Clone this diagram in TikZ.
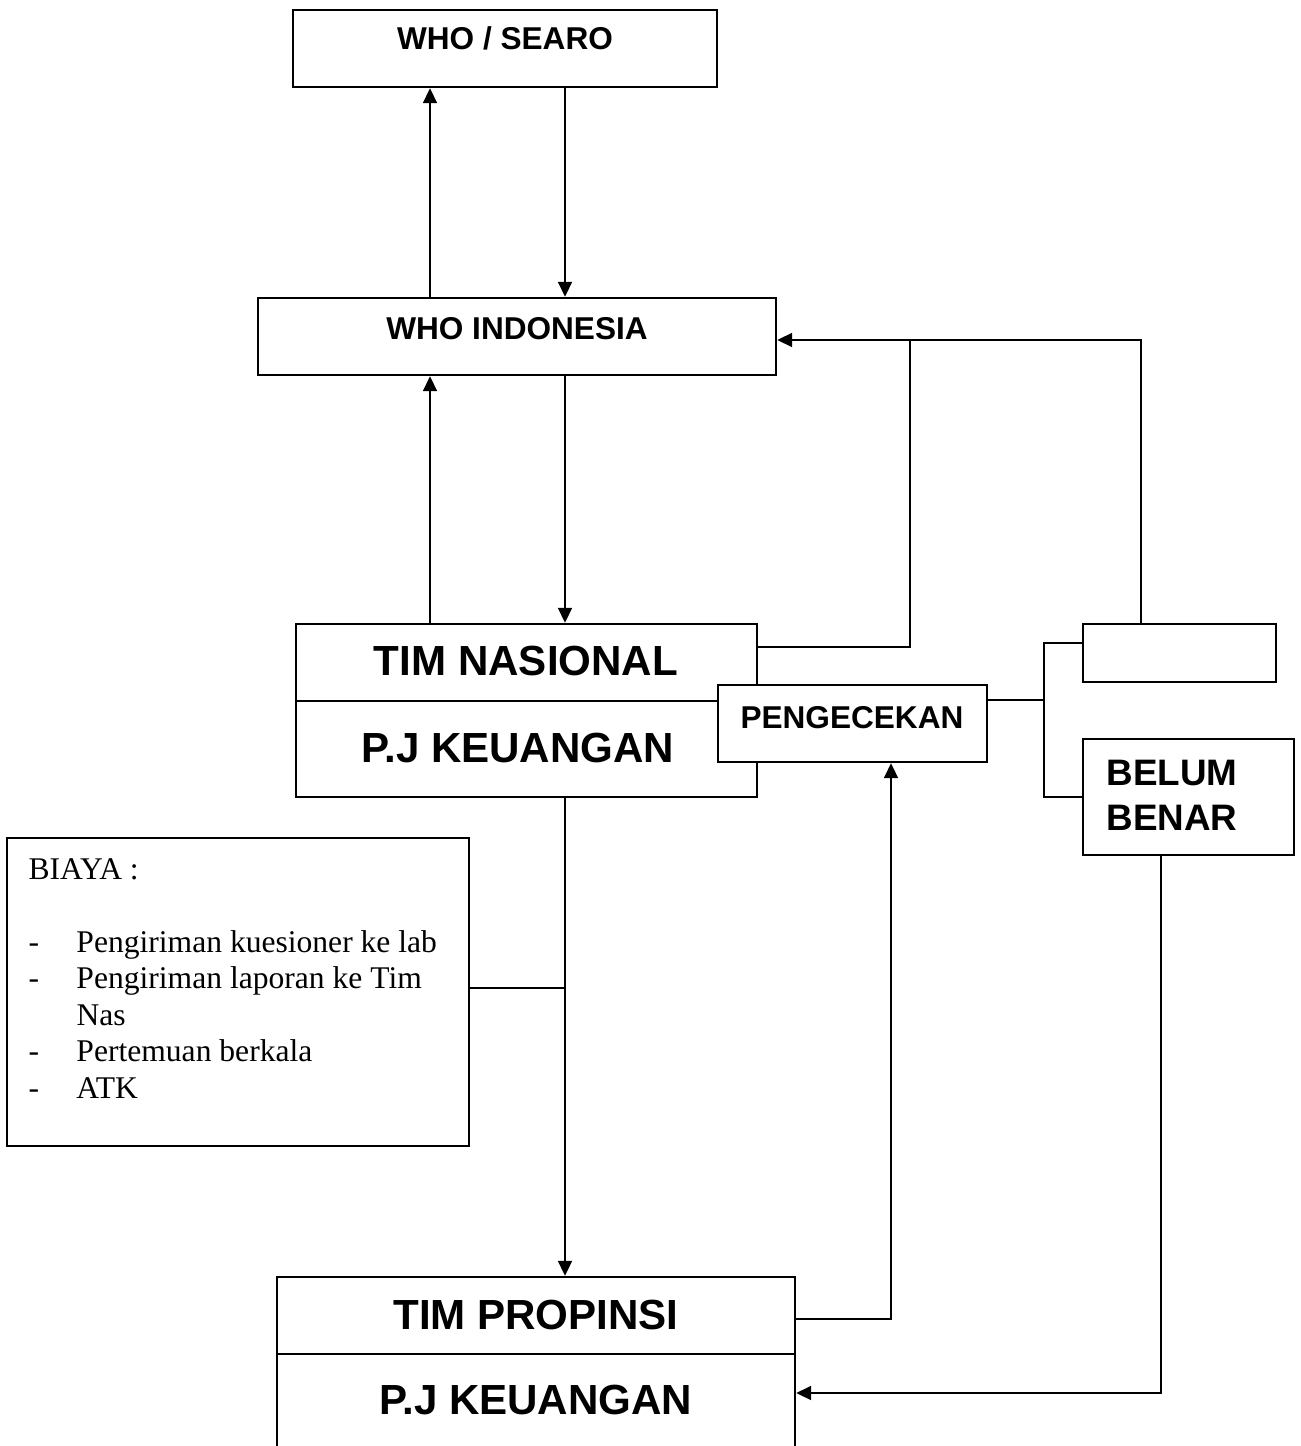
\documentclass[tikz,border=0pt]{standalone}
\usepackage{fontspec}
\setmainfont{Liberation Serif}
\newfontfamily\hv{Liberation Sans}
\usetikzlibrary{arrows.meta,fit}
\begin{document}
\begin{tikzpicture}[x=0.38pt,y=-0.38pt,
  box/.style={draw, line width=0.9pt, inner sep=0pt, fill=white},
  conn/.style={line width=0.75pt},
  arr/.style={conn, -{Triangle[length=5.7pt,width=5.3pt]}},
  lbl/.style={inner sep=0pt, anchor=base, font=\hv\bfseries\fontsize{12}{14}\selectfont},
  big/.style={lbl, font=\hv\bfseries\fontsize{16}{19}\selectfont},
  mid/.style={lbl, anchor=base west, font=\hv\bfseries\fontsize{14}{17}\selectfont},
]
\useasboundingbox (0,0) rectangle (1300,1446);
\clip (0,0) rectangle (1300,1446);
\fill[white] (0,0) rectangle (1300,1446);

% helper coordinates
\coordinate (xa) at (430,0);
\coordinate (xb) at (565,0);
\coordinate (xc) at (891,0);
\coordinate (xd) at (1141,0);
\coordinate (xe) at (1161,0);
\coordinate (j1) at (910,340);
\coordinate (ya) at (0,647);
\coordinate (yc) at (0,1319);
\coordinate (yd) at (0,1393);
\coordinate (yt) at (0,701);
\coordinate (yp) at (0,1354);
\coordinate (br) at (1044,700);
\coordinate (bt) at (0,643);
\coordinate (bb) at (1044,797);
\coordinate (bj) at (565,988);

% boxes
\node[box, fit={(293,10) (717,87)}] (searo) {};
\node[box, fit={(258,298) (776,375)}] (whoi) {};
\node[box, fit={(296,624) (757,797)}] (timnas) {};
\draw[line width=0.9pt] (timnas.west |- yt) -- (timnas.east |- yt);
\node[box, fit={(718,685) (987,762)}] (pgc) {};
\node[box, fit={(1083,624) (1276,682)}] (emp) {};
\node[box, fit={(1083,739) (1294,855)}] (belum) {};
\node[box, fit={(7,838) (469,1146)}] (biaya) {};
\node[box, fit={(277,1277) (795,1465)}] (timprop) {};
\draw[line width=0.9pt] (timprop.west |- yp) -- (timprop.east |- yp);

% texts
\node[lbl] (tsearo) at (505,50) {WHO / SEARO};
\node[lbl] (twhoi) at (517,340) {WHO INDONESIA};
\node[big] (ttn) at (526,675) {TIM NASIONAL};
\node[big] (tpj1) at (518,762) {P.J KEUANGAN};
\node[lbl, anchor=base west] (tpgc) at (740,728) {PENGECEKAN};
\node[mid] (tbel1) at (1106,785) {BELUM};
\node[mid] (tbel2) at (1106,830) {BENAR};
\node[big] (ttp) at (536,1329) {TIM PROPINSI};
\node[big] (tpj2) at (536,1414) {P.J KEUANGAN};
\node[inner sep=0pt, anchor=base west, font=\fontsize{12}{13.87}\selectfont] (tbiaya) at (28,879)
  {\begin{tabular}[t]{@{}p{18.24pt}@{}l@{}}
   \multicolumn{2}{@{}l@{}}{BIAYA :}\\
   & \\
   - & Pengiriman kuesioner ke lab\\
   - & Pengiriman laporan ke Tim\\
     & Nas\\
   - & Pertemuan berkala\\
   - & ATK
   \end{tabular}};

% connectors
\draw[arr] (whoi.north -| xa) -- (searo.south -| xa);
\draw[arr] (searo.south -| xb) -- (whoi.north -| xb);
\draw[arr] (timnas.north -| xa) -- (whoi.south -| xa);
\draw[arr] (whoi.south -| xb) -- (timnas.north -| xb);
\draw[arr] (timnas.south -| xb) -- (timprop.north -| xb);
\draw[conn] (biaya.east |- bj) -- (bj);
\draw[arr] (timnas.east |- ya) -| (j1) -- (whoi.east |- j1);
\draw[conn] (emp.north -| xd) |- (j1);
\draw[conn] (pgc.east |- br) -- (br);
\draw[conn] (emp.west |- bt) -| (bb) -- (belum.west |- bb);
\draw[arr] (timprop.east |- yc) -| (pgc.south -| xc);
\draw[arr] (belum.south -| xe) |- (timprop.east |- yd);
\end{tikzpicture}
\end{document}
